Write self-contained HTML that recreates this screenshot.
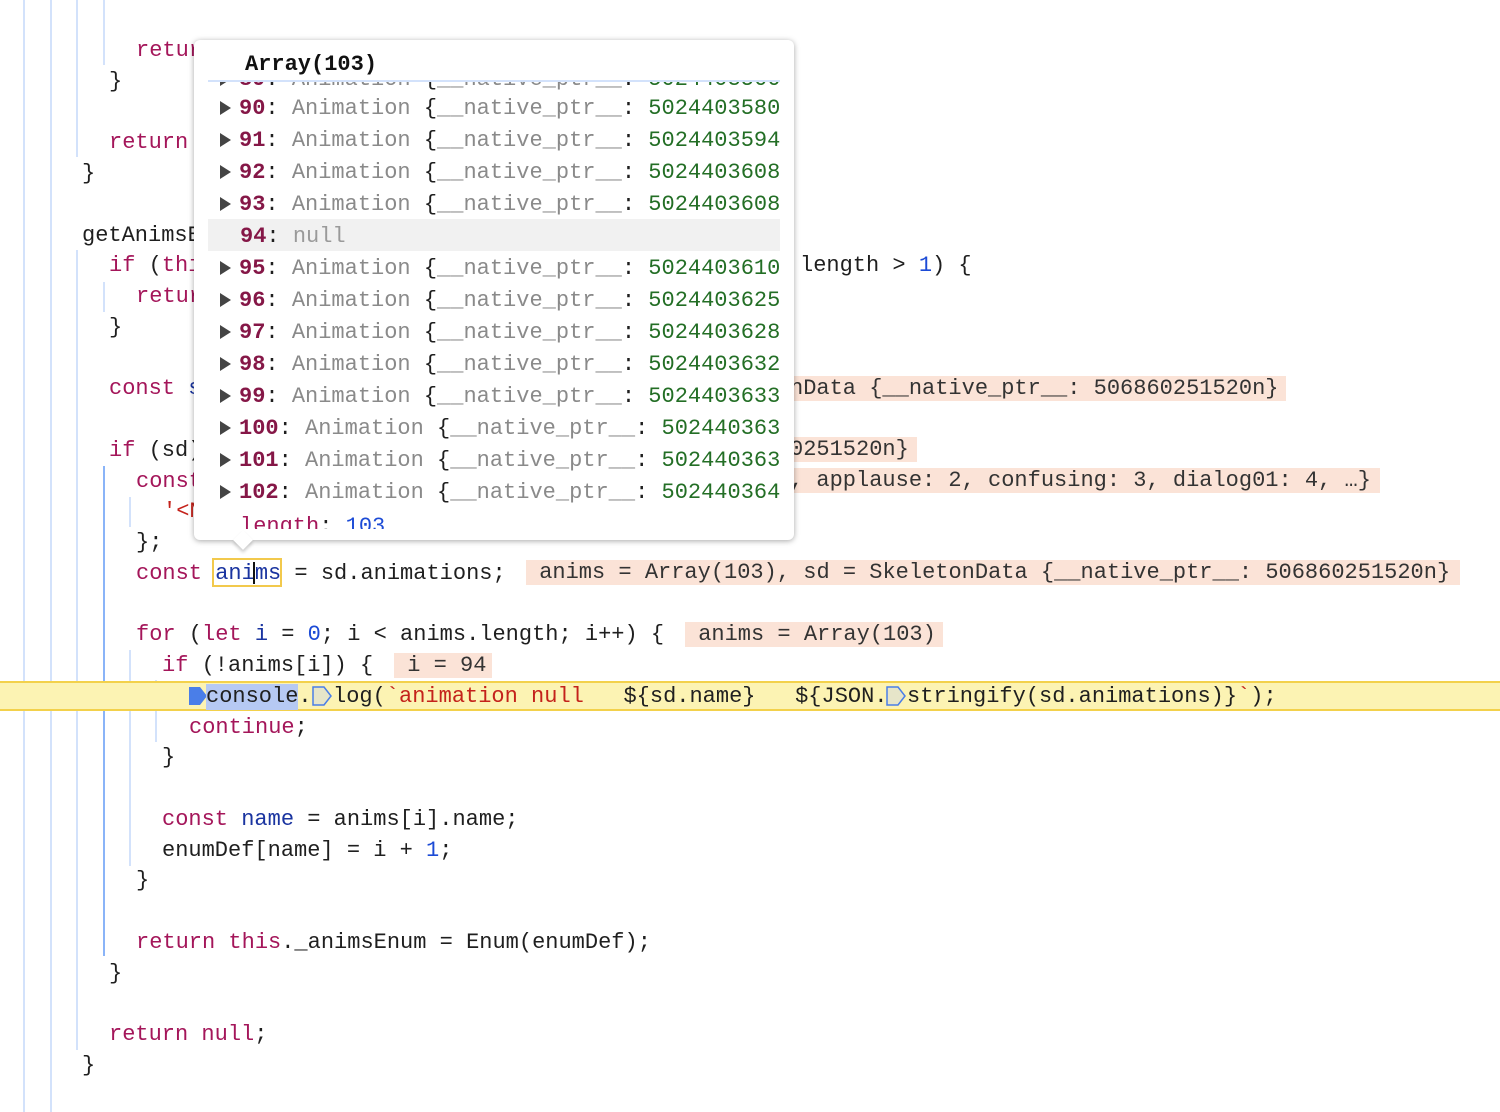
<!DOCTYPE html>
<html><head><meta charset="utf-8"><style>
body{margin:0;width:1500px;height:1112px;background:#fff;overflow:hidden;position:relative;font-family:"Liberation Mono","DejaVu Sans Mono",monospace;font-size:22px;color:#1f1f1f}
.l{position:absolute;height:31px;line-height:32px;white-space:pre}
.k{color:#a4165a}.v{color:#1a34a0}.n{color:#1c4bd6}.s{color:#c4221b}
.g{position:absolute;width:2px;background:#d3e2fb}
.b{position:absolute;height:25px;line-height:25px;background:#fbe3d7;white-space:pre;color:#333}
.pop{position:absolute;left:194px;top:40px;width:600px;height:500px;background:#fff;border-radius:6px;box-shadow:0 1px 6px rgba(0,0,0,.35);}
.row{position:absolute;left:0;height:32px;line-height:32px;white-space:pre}
.i{color:#851747;font-weight:bold}.a{color:#8a8a8a}.gr{color:#236e25}
.t{display:inline-block;width:0;height:0;border-left:11px solid #444;border-top:7px solid transparent;border-bottom:7px solid transparent;margin-right:8px;vertical-align:-1px}
</style></head><body>
<div class="g" style="left:23px;top:0;height:1112px"></div>
<div class="g" style="left:50px;top:0;height:1112px"></div>
<div class="g" style="left:76px;top:0;height:157px"></div>
<div class="g" style="left:76px;top:250px;height:800px"></div>
<div class="g" style="left:103px;top:0;height:65px"></div>
<div class="g" style="left:103px;top:282px;height:30px"></div>
<div class="g" style="left:103px;top:466px;height:490px;background:#8ab4f8"></div>
<div class="g" style="left:129px;top:497px;height:30px"></div>
<div class="g" style="left:129px;top:650px;height:216px"></div>
<div class="g" style="left:155px;top:680px;height:62px"></div>

<div style="position:absolute;left:0;top:681px;width:1500px;height:30px;background:#fcf3b3;border-top:2px solid #f3d14b;border-bottom:2px solid #f3d14b;box-sizing:border-box"></div>

<div class="l k" style="left:136px;top:35px">return</div>
<div class="l" style="left:109px;top:65.75px">}</div>
<div class="l k" style="left:109px;top:127.25px">return</div>
<div class="l" style="left:82px;top:158px">}</div>
<div class="l" style="left:82px;top:219.5px">getAnimsEnum() {</div>
<div class="l" style="left:109px;top:250.25px"><span class="k">if</span> (<span class="k">this</span></div>
<div class="l" style="left:800px;top:250.25px">length &gt; <span class="n">1</span>) {</div>
<div class="l k" style="left:136px;top:281px">return</div>
<div class="l" style="left:109px;top:311.75px">}</div>
<div class="l" style="left:109px;top:373.25px"><span class="k">const</span> <span class="v">sd</span></div>
<div class="b" style="left:790px;top:376px;width:496px">nData {__native_ptr__: 506860251520n}</div>
<div class="l" style="left:109px;top:434.75px"><span class="k">if</span> (sd)</div>
<div class="b" style="left:790px;top:437px;width:127px">0251520n}</div>
<div class="l k" style="left:136px;top:465.5px">const</div>
<div class="b" style="left:790px;top:468px;width:590px">, applause: 2, confusing: 3, dialog01: 4, …}</div>
<div class="l s" style="left:163px;top:496.25px">'&lt;N</div>
<div class="l" style="left:136px;top:527px">};</div>
<div class="l" style="left:136px;top:557.75px"><span class="k">const</span> <span class="v">anims</span> = sd.animations;</div>
<div style="position:absolute;left:212px;top:558px;width:70px;height:29px;border:2px solid #f2c94c;box-sizing:border-box"></div>
<div style="position:absolute;left:253px;top:562px;width:2px;height:22px;background:#111"></div>
<div class="b" style="left:526px;top:560px;width:934px"> anims = Array(103), sd = SkeletonData {__native_ptr__: 506860251520n}</div>
<div class="l" style="left:136px;top:619.25px"><span class="k">for</span> (<span class="k">let</span> <span class="v">i</span> = <span class="n">0</span>; i &lt; anims.length; i++) {</div>
<div class="b" style="left:685px;top:622px;width:258px"> anims = Array(103)</div>
<div class="l" style="left:162px;top:650px"><span class="k">if</span> (!anims[i]) {</div>
<div class="b" style="left:394px;top:653px;width:98px"> i = 94</div>
<svg style="position:absolute;left:188px;top:686px" width="20" height="20"><path d="M1 1H12L19 10L12 19H1Z" fill="#4a7ee8"/></svg>
<div style="position:absolute;left:206px;top:684px;width:92px;height:26px;background:#b6c9f3"></div>
<div class="l" style="left:206px;top:680.75px">console.</div>
<svg style="position:absolute;left:312px;top:686px" width="20" height="20"><path d="M1 1H12L19 10L12 19H1Z" fill="#e6e5c9" stroke="#4a7ee8" stroke-width="1.5"/></svg>
<div class="l" style="left:333px;top:680.75px">log(<span class="s">`animation null</span>   ${sd.name}   ${JSON.</div>
<svg style="position:absolute;left:886px;top:686px" width="20" height="20"><path d="M1 1H12L19 10L12 19H1Z" fill="#e6e5c9" stroke="#4a7ee8" stroke-width="1.5"/></svg>
<div class="l" style="left:907px;top:680.75px">stringify(sd.animations)}<span class="s">`</span>);</div>
<div class="l k" style="left:189px;top:711.5px">continue<span style="color:#1f1f1f">;</span></div>
<div class="l" style="left:162px;top:742.25px">}</div>
<div class="l" style="left:162px;top:803.75px"><span class="k">const</span> <span class="v">name</span> = anims[i].name;</div>
<div class="l" style="left:162px;top:834.5px">enumDef[name] = i + <span class="n">1</span>;</div>
<div class="l" style="left:136px;top:865.25px">}</div>
<div class="l" style="left:136px;top:926.75px"><span class="k">return this</span>._animsEnum = Enum(enumDef);</div>
<div class="l" style="left:109px;top:957.5px">}</div>
<div class="l" style="left:109px;top:1019px"><span class="k">return null</span>;</div>
<div class="l" style="left:82px;top:1049.75px">}</div>

<div class="pop">
 <div style="position:absolute;left:51px;top:11px;font-weight:bold;line-height:28px;color:#111">Array(103)</div>
 <div style="position:absolute;left:14px;top:40px;width:572px;height:447px;overflow:hidden;border-top:2px solid #d3e2fb">
  <div class="row" style="top:-18px;left:12px"><span class="t"></span><span class="i">89</span>: <span class="a">Animation</span> {<span class="a">__native_ptr__</span>: <span class="gr">5024403566</span></div>
  <div style="position:absolute;left:0;top:137px;width:572px;height:32px;background:#f1f1f1"></div>
  <div class="row" style="top:11px;left:12px"><span class="t"></span><span class="i">90</span>: <span class="a">Animation</span> {<span class="a">__native_ptr__</span>: <span class="gr">5024403580</span></div>
  <div class="row" style="top:43px;left:12px"><span class="t"></span><span class="i">91</span>: <span class="a">Animation</span> {<span class="a">__native_ptr__</span>: <span class="gr">5024403594</span></div>
  <div class="row" style="top:75px;left:12px"><span class="t"></span><span class="i">92</span>: <span class="a">Animation</span> {<span class="a">__native_ptr__</span>: <span class="gr">5024403608</span></div>
  <div class="row" style="top:107px;left:12px"><span class="t"></span><span class="i">93</span>: <span class="a">Animation</span> {<span class="a">__native_ptr__</span>: <span class="gr">5024403608</span></div>
  <div class="row" style="top:139px;left:32px"><span class="i">94</span>: <span class="a" style="color:#9a9a9a">null</span></div>
  <div class="row" style="top:171px;left:12px"><span class="t"></span><span class="i">95</span>: <span class="a">Animation</span> {<span class="a">__native_ptr__</span>: <span class="gr">5024403610</span></div>
  <div class="row" style="top:203px;left:12px"><span class="t"></span><span class="i">96</span>: <span class="a">Animation</span> {<span class="a">__native_ptr__</span>: <span class="gr">5024403625</span></div>
  <div class="row" style="top:235px;left:12px"><span class="t"></span><span class="i">97</span>: <span class="a">Animation</span> {<span class="a">__native_ptr__</span>: <span class="gr">5024403628</span></div>
  <div class="row" style="top:267px;left:12px"><span class="t"></span><span class="i">98</span>: <span class="a">Animation</span> {<span class="a">__native_ptr__</span>: <span class="gr">5024403632</span></div>
  <div class="row" style="top:299px;left:12px"><span class="t"></span><span class="i">99</span>: <span class="a">Animation</span> {<span class="a">__native_ptr__</span>: <span class="gr">5024403633</span></div>
  <div class="row" style="top:331px;left:12px"><span class="t"></span><span class="i">100</span>: <span class="a">Animation</span> {<span class="a">__native_ptr__</span>: <span class="gr">502440363</span></div>
  <div class="row" style="top:363px;left:12px"><span class="t"></span><span class="i">101</span>: <span class="a">Animation</span> {<span class="a">__native_ptr__</span>: <span class="gr">502440363</span></div>
  <div class="row" style="top:395px;left:12px"><span class="t"></span><span class="i">102</span>: <span class="a">Animation</span> {<span class="a">__native_ptr__</span>: <span class="gr">502440364</span></div>
  <div class="row" style="top:429px;left:32px"><span class="i" style="color:#a4165a;font-weight:normal">length</span>: <span class="n">103</span></div>
 </div>
 <div style="position:absolute;left:42px;top:493px;width:14px;height:14px;background:#fff;transform:rotate(45deg);box-shadow:2px 2px 3px rgba(0,0,0,.2)"></div>
</div>
</body></html>
